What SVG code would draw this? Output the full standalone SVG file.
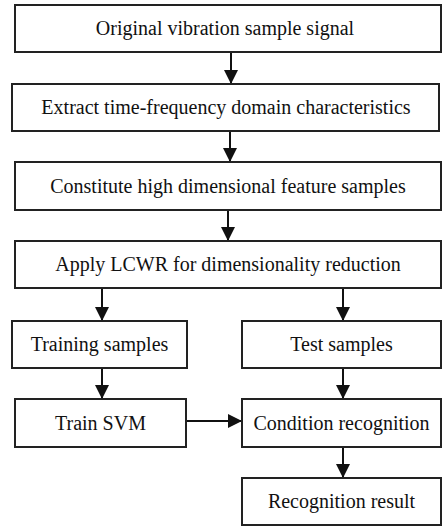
<svg xmlns="http://www.w3.org/2000/svg" width="443" height="526" viewBox="0 0 443 526">
<style>
.box{fill:#fff;stroke:#222;stroke-width:2}
.con{stroke:#111;stroke-width:2;fill:none}
</style>
<defs>
<marker id="ah" markerWidth="14" markerHeight="14" viewBox="0 0 14 14" refX="14" refY="7" orient="auto" markerUnits="userSpaceOnUse">
<path d="M0,0 L14,7 L0,14 Z" fill="#111"/>
</marker>
</defs>
<rect width="443" height="526" fill="#fff"/>
<g id="connectors">
<line class="con" x1="231" y1="52" x2="231" y2="84" marker-end="url(#ah)"/>
<line class="con" x1="230" y1="131" x2="230" y2="162" marker-end="url(#ah)"/>
<line class="con" x1="228" y1="210" x2="228" y2="241" marker-end="url(#ah)"/>
<line class="con" x1="102" y1="288" x2="102" y2="321" marker-end="url(#ah)"/>
<line class="con" x1="343" y1="288" x2="343" y2="321" marker-end="url(#ah)"/>
<line class="con" x1="102" y1="368" x2="102" y2="399" marker-end="url(#ah)"/>
<line class="con" x1="343" y1="368" x2="343" y2="399" marker-end="url(#ah)"/>
<line class="con" x1="186" y1="421" x2="242" y2="421" marker-end="url(#ah)"/>
<line class="con" x1="343" y1="447" x2="343" y2="478" marker-end="url(#ah)"/>
</g>
<g font-family="Liberation Serif" font-size="20" fill="#111" text-anchor="middle">
<g id="n1"><rect class="box" x="15" y="5" width="426" height="47"/><text x="225" y="35">Original vibration sample signal</text></g>
<g id="n2"><rect class="box" x="12" y="84" width="427" height="47"/><text x="226" y="114">Extract time-frequency domain characteristics</text></g>
<g id="n3"><rect class="box" x="15" y="162" width="426" height="48"/><text x="228" y="192.5">Constitute high dimensional feature samples</text></g>
<g id="n4"><rect class="box" x="15" y="241" width="426" height="47"/><text x="228" y="271">Apply LCWR for dimensionality reduction</text></g>
<g id="n5"><rect class="box" x="12" y="321" width="175" height="47"/><text x="99.5" y="351">Training samples</text></g>
<g id="n6"><rect class="box" x="242" y="321" width="199" height="47"/><text x="341.5" y="351">Test samples</text></g>
<g id="n7"><rect class="box" x="15" y="399" width="171" height="48"/><text x="100.5" y="429.5">Train SVM</text></g>
<g id="n8"><rect class="box" x="242" y="399" width="199" height="48"/><text x="341.5" y="429.5">Condition recognition</text></g>
<g id="n9"><rect class="box" x="242" y="478" width="199" height="47"/><text x="341.5" y="508">Recognition result</text></g>
</g>
</svg>
